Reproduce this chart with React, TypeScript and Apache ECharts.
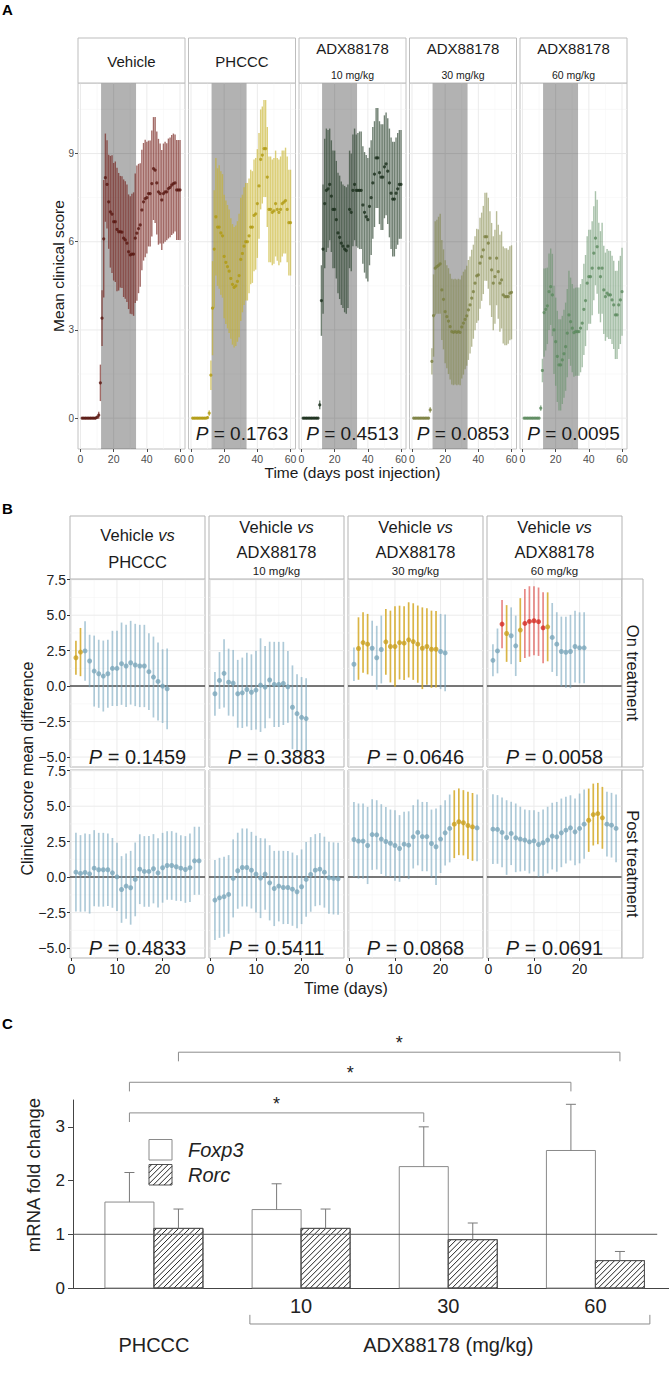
import React, { useEffect, useRef } from "react";
import * as echarts from "echarts";

const FONT = "'Liberation Sans', Arial, Helvetica, sans-serif";

// ================= Panel A data =================
const aDays = [1,2,3,4,5,6,7,8,9,10,11,12,13,14,15,16,17,18,19,20,21,22,23,24,25,26,27,28,29,30,31,32,33,34,35,36,37,38,39,40,41,42,43,44,45,46,47,48,49,50,51,52,53,54,55,56,57,58,59,60];
const aPanelTitles = ["Vehicle", "PHCCC", "ADX88178", "ADX88178", "ADX88178"];
const aPanelDoses = ["", "", "10 mg/kg", "30 mg/kg", "60 mg/kg"];
const aPValues = ["", "0.1763", "0.4513", "0.0853", "0.0095"];
const aTreatment = [12.4, 33.5];
const aXTicks = [0, 20, 40, 60];
const aXMinor = [10, 30, 50];
const aYTicks = [0, 3, 6, 9];
const aYMinor = [1.5, 4.5, 7.5, 10.5];

const vehicleMean = [0,0,0,0,0,0,0,0,0,0.03, 0.1,1.2,3.4,6.1,8.18,7.95,7.36,7.02,6.94,6.68, 6.68,6.42,6.34,6.34,6.33,6.12,6.06,5.95,5.66,5.55, 5.58,5.58,6.12,6.29,6.45,6.57,7.08,7.36,7.47,7.5, 7.64,7.64,7.98,8.49,8.44,8.0,7.7,7.64,7.42,7.64, 7.7,7.7,7.81,7.85,7.93,7.98,8.0,7.76,7.76,7.76];
const vehicleErr = [0.04,0.04,0.04,0.04,0.04,0.04,0.04,0.04,0.04,0.05, 0.12,0.62,0.95,2.0,1.5,1.5,1.6,1.9,2.0,2.0, 2.05,2.1,2.0,1.9,1.9,2.0,2.0,2.0,1.95,2.0, 2.05,2.1,2.2,2.3,2.2,2.1,2.05,2.0,2.0,1.9, 1.8,1.8,1.8,1.75,1.8,1.75,1.8,1.7,1.7,1.7, 1.7,1.65,1.7,1.7,1.7,1.7,1.65,1.7,1.7,1.7];

const phcccMean = [0,0,0,0,0,0,0,0,0,0.02, 0.17,1.46,3.74,5.75,6.85,6.5,6.5,6.3,6.2,5.5, 5.3,5.15,5.0,4.75,4.55,4.45,4.5,4.65,4.85,5.4, 5.6,5.85,6.0,6.0,6.2,6.5,6.5,6.9,6.95,7.3, 7.9,8.8,8.95,9.17,9.17,8.2,7.1,7.1,7.0,7.05, 7.3,7.1,7.0,7.1,7.3,7.35,7.4,7.1,6.65,6.65];
const phcccErr = [0.04,0.04,0.04,0.04,0.04,0.04,0.04,0.04,0.04,0.05, 0.1,0.5,1.6,2.0,2.0,2.0,2.1,2.1,2.1,2.1, 2.1,2.1,2.1,2.05,2.05,2.05,2.05,2.05,2.1,2.1, 2.0,2.0,2.0,2.0,1.95,1.95,1.9,1.9,1.9,1.85, 1.8,1.7,1.65,1.65,1.65,1.7,1.8,1.8,1.8,1.8, 1.8,1.75,1.8,1.8,1.8,1.75,1.8,1.8,1.8,1.8];

const adx10Mean = [0,0,0,0,0,0,0,0,0,0, 0.45,4.0,5.75,7.3,7.75,7.8,7.95,7.55,7.1,7.1, 6.75,6.3,6.15,5.95,5.85,5.75,5.7,5.85,7.1,7.0, 7.75,7.95,7.75,7.75,7.75,7.75,7.25,7.0,6.85,6.75, 7.2,7.5,8.0,8.3,8.85,8.85,8.35,8.2,8.2,8.55, 8.65,8.4,8.0,7.65,7.45,7.45,7.65,7.8,7.95,7.95];
const adx10Err = [0.04,0.04,0.04,0.04,0.04,0.04,0.04,0.04,0.04,0.04, 0.15,1.2,2.2,2.2,2.1,2.0,1.9,1.9,2.0,2.0, 2.0,2.05,2.1,2.1,2.1,2.15,2.15,2.1,2.0,2.0, 1.9,1.9,1.9,1.95,2.0,2.0,2.0,2.05,2.1,2.1, 2.0,1.95,1.9,1.8,1.7,1.7,1.75,1.8,1.8,1.75, 1.75,1.8,1.85,1.9,1.95,1.95,1.9,1.9,1.85,1.85];

const adx30Mean = [0,0,0,0,0,0,0,0,0,0, 0.28,1.93,3.49,5.1,5.15,5.2,5.25,4.36,4.04,3.62, 3.45,3.3,3.11,2.94,2.92,2.94,2.92,2.94,2.92,3.1, 3.23,3.36,3.48,3.68,3.85,4.08,4.3,4.59,4.84,4.87, 5.27,5.49,5.72,6.17,6.17,5.95,5.44,5.04,4.59,4.81, 5.44,4.98,4.59,4.7,4.19,4.13,4.13,4.13,4.25,4.28];
const adx30Err = [0.04,0.04,0.04,0.04,0.04,0.04,0.04,0.04,0.04,0.04, 0.1,0.45,1.4,1.6,1.6,1.65,1.7,1.7,1.7,1.75, 1.75,1.8,1.8,1.8,1.8,1.8,1.8,1.8,1.8,1.75, 1.75,1.7,1.7,1.7,1.65,1.65,1.6,1.6,1.6,1.55, 1.55,1.5,1.5,1.5,1.5,1.55,1.6,1.6,1.6,1.6, 1.6,1.6,1.65,1.65,1.65,1.65,1.65,1.6,1.6,1.6];

const adx60Mean = [0,0,0,0,0,0,0,0,0,0, 0.34,1.62,3.59,3.7,3.82,4.3,4.47,4.19,3.0,2.6, 2.1,1.81,1.81,1.98,2.19,2.43,2.89,3.51,3.28,3.06, 2.91,2.94,2.94,2.94,3.06,3.23,3.7,4.0,4.59,4.81, 4.81,5.1,5.61,6.12,5.83,5.1,4.81,5.1,4.36,4.13, 4.25,4.19,4.19,4.02,3.85,3.51,3.51,3.85,4.02,4.3];
const adx60Err = [0.04,0.04,0.04,0.04,0.04,0.04,0.04,0.04,0.04,0.04, 0.1,0.4,1.5,1.4,1.3,1.3,1.3,1.4,1.5,1.5, 1.55,1.55,1.55,1.5,1.5,1.5,1.5,1.5,1.5,1.5, 1.5,1.5,1.5,1.5,1.5,1.5,1.55,1.55,1.6,1.6, 1.6,1.6,1.6,1.6,1.6,1.55,1.55,1.55,1.5,1.5, 1.5,1.5,1.5,1.5,1.5,1.5,1.5,1.5,1.5,1.5];

// ================= Panel B data =================
const bDays = [1,2,3,4,5,6,7,8,9,10,11,12,13,14,15,16,17,18,19,20,21,22,23,24,25,26,27,28];
const bColTitles = ["PHCCC", "ADX88178", "ADX88178", "ADX88178"];
const bColDoses = ["", "10 mg/kg", "30 mg/kg", "60 mg/kg"];
const bRowTitles = ["On treatment", "Post treatment"];
const bPValues = [["0.1459", "0.3883", "0.0646", "0.0058"], ["0.4833", "0.5411", "0.0868", "0.0691"]];
const bXTicks = [0, 10, 20];
const bXMinor = [5, 15, 25];
const bYTicks = [-5, -2.5, 0, 2.5, 5, 7.5];
const bYMinor = [-3.75, -1.25, 1.25, 3.75, 6.25];
const bZeroLine = 0;

const bOnPhcccMean = [2.0,2.4,2.48,1.77,1.06,0.87,0.71,0.87,1.25,1.25,1.58,1.42,1.65,1.49,1.42,1.42,1.02,0.64,0.33,0.0,-0.19];
const bOnPhcccErr = [1.2,1.7,2.1,1.85,2.5,2.4,2.5,2.4,2.65,2.65,2.9,2.9,2.95,2.9,2.9,2.9,2.7,2.85,2.75,2.6,2.85];
const bOnPhcccSig = [1,1,0,0,0,0,0,0,0,0,0,0,0,0,0,0,0,0,0,0,0];

const bOnAdx10Mean = [-0.54,0.4,0.9,0.28,0.21,-0.54,-0.47,-0.24,-0.43,-0.28,0.07,-0.07,0.43,0.12,0.12,0.19,-0.05,-1.49,-1.94,-2.2,-2.29];
const bOnAdx10Err = [1.54,2.0,2.41,2.36,2.34,2.39,2.48,2.6,2.67,2.77,3.3,2.9,2.7,3.0,3.0,2.93,2.53,2.95,2.77,2.84,2.84];
const bOnAdx10Sig = [0,0,0,0,0,0,0,0,0,0,0,0,0,0,0,0,0,0,0,0,0];

const bOnAdx30Mean = [1.54,2.65,3.07,2.96,2.67,2.0,2.58,3.12,2.79,2.79,3.07,3.03,3.26,3.14,2.96,2.67,2.79,2.6,2.6,2.44,2.34];
const bOnAdx30Err = [1.18,2.2,2.13,2.13,1.94,2.25,2.39,2.32,2.53,2.84,2.6,2.6,2.65,2.7,2.72,2.88,2.7,2.72,2.7,2.65,2.7];
const bOnAdx30Sig = [0,1,1,1,0,0,0,1,1,1,1,1,1,1,1,1,1,1,1,0,0];

const bOnAdx60Mean = [1.82,2.48,4.37,3.71,3.55,2.84,3.95,4.42,4.56,4.61,4.54,4.11,4.18,3.43,2.96,2.44,2.39,2.44,2.79,2.7,2.7];
const bOnAdx60Err = [1.13,1.58,1.7,2.0,2.0,2.13,2.25,2.43,2.48,2.43,2.41,2.5,2.43,2.43,2.25,2.46,2.5,2.58,2.53,2.5,2.5];
const bOnAdx60Sig = [0,0,2,1,0,0,1,2,2,2,2,2,1,0,0,0,0,0,0,0,0];

const bPostPhcccMean = [0.35,0.26,0.33,0.23,0.63,0.52,0.52,0.52,0.3,0.02,-0.87,-0.63,-0.75,-0.16,0.56,0.4,0.4,0.59,0.3,0.66,0.82,0.82,0.73,0.63,0.54,0.66,1.15,1.15];
const bPostPhcccErr = [2.77,2.7,2.75,2.8,2.68,2.6,2.6,2.56,2.46,2.4,2.35,2.3,2.6,2.6,2.46,2.49,2.49,2.44,2.44,2.46,2.42,2.42,2.4,2.32,2.35,2.42,2.4,2.4];
const bPostPhcccSig = [0,0,0,0,0,0,0,0,0,0,0,0,0,0,0,0,0,0,0,0,0,0,0,0,0,0,0,0];

const bPostAdx10Mean = [-1.62,-1.46,-1.38,-1.22,-0.09,0.45,0.68,0.68,0.49,0.21,-0.07,0.21,-0.4,-0.8,-0.63,-0.73,-0.73,-0.85,-1.03,-0.68,-0.16,0.19,0.49,0.56,0.35,-0.05,-0.09,-0.12];
const bPostAdx10Err = [2.82,2.82,2.82,2.77,2.75,2.68,2.75,2.75,2.7,2.7,2.82,2.51,2.65,2.65,2.49,2.58,2.58,2.58,2.58,2.63,2.63,2.63,2.54,2.54,2.5,2.54,2.54,2.54];
const bPostAdx10Sig = [0,0,0,0,0,0,0,0,0,0,0,0,0,0,0,0,0,0,0,0,0,0,0,0,0,0,0,0];

const bPostAdx30Mean = [2.65,2.54,2.54,2.23,3.0,2.98,2.68,2.51,2.39,2.23,2.02,2.32,2.25,2.84,3.15,2.86,2.86,2.37,2.14,2.68,3.12,3.43,3.73,3.9,3.83,3.64,3.54,3.47];
const bPostAdx30Err = [2.65,2.65,2.65,2.72,2.49,2.44,2.46,2.44,2.37,2.49,2.35,2.28,2.39,2.23,2.32,2.44,2.44,2.39,2.7,2.39,2.3,2.39,2.39,2.35,2.3,2.37,2.39,2.35];
const bPostAdx30Sig = [0,0,0,0,0,0,0,0,0,0,0,0,0,0,0,0,0,0,0,0,0,0,1,1,1,1,1,0];

const bPostAdx60Mean = [3.38,3.36,3.15,2.79,3.08,2.77,2.68,2.61,2.49,2.56,2.3,2.42,2.61,2.89,2.84,3.12,3.31,3.47,3.19,3.43,3.73,4.01,4.41,4.48,4.18,3.73,3.66,3.43];
const bPostAdx60Err = [2.46,2.42,2.46,2.63,2.23,2.42,2.28,2.16,2.23,2.16,2.3,2.35,2.35,2.35,2.46,2.42,2.35,2.3,2.35,2.46,2.44,2.23,2.18,2.16,2.18,2.28,2.28,2.39];
const bPostAdx60Sig = [0,0,0,0,0,0,0,0,0,0,0,0,0,0,0,0,0,0,0,0,0,1,1,1,1,0,0,0];

// ================= Panel C data =================
const cGroups = ["PHCCC", "10", "30", "60"];
const cGenes = ["Foxp3", "Rorc"];
const foxp3Mean = [1.6, 1.46, 2.26, 2.56];
const foxp3Err = [0.55, 0.48, 0.74, 0.86];
const rorcMean = [1.11, 1.11, 0.9, 0.51];
const rorcErr = [0.36, 0.36, 0.31, 0.17];
const cRefLine = 1;
const cYTicks = [0, 1, 2, 3];
const cCompFrom = [0, 0, 0];
const cCompTo = [2, 3, 3];
const cCompGene = [0, 0, 1];
const cCompLabel = ["*", "*", "*"];
const cGroupLabel = "ADX88178 (mg/kg)";

// ================= layout =================
const A_LEFTS = [78, 188.5, 299, 409.5, 520];
const A_W = 107, A_TOP = 83, A_H = 366, A_STRIP_TOP = 38, A_STRIP_H = 45;
const A_XMIN = -1.5, A_XMAX = 63, A_YMIN = -1.05, A_YMAX = 11.4;

const B_LEFTS = [70, 209, 348, 487];
const B_W = 135, B_TOPS = [579, 770], B_H = 188, B_STRIP_TOP = 516, B_SIDE_W = 21;
const B_XMIN = -0.3, B_XMAX = 29.3, B_YMIN = -5.7, B_YMAX = 7.55;

const C_LEFT = 73, C_TOP = 1100, C_W = 596, C_H = 188;
const C_XMIN = -0.55, C_XMAX = 3.5, C_YMAX = 3.5;
const C_BAR_OFF = 0.1665, C_BAR_W = 0.333, C_REF_END = 3.42;
const C_BRACKET_LEVELS = [3.26, 3.83, 4.39], C_DROP = 0.17, C_STAR_OFF = 0.24;
const C_FONT = 20;

const aStyles = [
  { dot: "#581610", bar: "rgba(118,36,30,0.68)" },
  { dot: "#b09a10", bar: "rgba(198,178,38,0.62)" },
  { dot: "#1a2e1c", bar: "rgba(46,70,48,0.68)" },
  { dot: "#7a7f40", bar: "rgba(126,132,66,0.55)" },
  { dot: "#5b895e", bar: "rgba(98,144,102,0.55)" },
];
const bDot = ["#7aa6ba", "#c9a020", "#d42a20"];
const bBar = ["rgba(120,166,190,0.6)", "rgba(212,168,36,0.85)", "rgba(214,40,34,0.55)"];

// ================= helpers =================
function txt(x: number, y: number, text: string, o: any = {}) {
  const size = o.size || 14;
  const align = o.align || "center";
  const va = o.va || "middle";
  const color = o.color || "#1a1a1a";
  const style: any = {
    text, x: 0, y: 0, fontSize: size, fontFamily: FONT, fontWeight: o.weight || "normal",
    fontStyle: o.italic ? "italic" : "normal", fill: color, align, verticalAlign: va,
    textAlign: align, textVerticalAlign: va,
  };
  if (o.rich) {
    style.rich = {
      i: { fontStyle: "italic", fontSize: size, fontFamily: FONT, fill: color },
    };
  }
  return { type: "text", x, y, rotation: o.rotation || 0, silent: true, z: 20, style };
}

function pText(x: number, y: number, value: string, size: number) {
  return txt(x, y, "{i|P} = " + value, { size, rich: true });
}

function hatchLines(x0: number, y0: number, x1: number, y1: number, step: number, style: any) {
  const out: any[] = [];
  for (let c = x0 + y0 + step / 2; c < x1 + y1; c += step) {
    const xa = Math.max(x0, c - y1);
    const xb = Math.min(x1, c - y0);
    if (xb - xa > 0.3) out.push({ type: "line", shape: { x1: xa, y1: c - xa, x2: xb, y2: c - xb }, style });
  }
  return out;
}

function gridLinesData(xMaj: number[], xMin: number[], yMaj: number[], yMin: number[]) {
  return [
    ...xMin.map((v) => [v, 0, 0]), ...yMin.map((v) => [v, 1, 0]),
    ...xMaj.map((v) => [v, 0, 1]), ...yMaj.map((v) => [v, 1, 1]),
  ];
}

const gridLineRender = (params: any, api: any) => {
  const cs = params.coordSys;
  const v = api.value(0), o = api.value(1), m = api.value(2);
  const style = { stroke: m ? "#ebebeb" : "#f5f5f5", lineWidth: m ? 1 : 0.6 };
  if (o === 0) {
    const x = api.coord([v, 0])[0];
    return { type: "line", shape: { x1: x, y1: cs.y, x2: x, y2: cs.y + cs.height }, style };
  }
  const y = api.coord([0, v])[1];
  return { type: "line", shape: { x1: cs.x, y1: y, x2: cs.x + cs.width, y2: y }, style };
};

const shadeRender = (params: any, api: any) => {
  const cs = params.coordSys;
  const xa = api.coord([api.value(0), 0])[0];
  const xb = api.coord([api.value(1), 0])[0];
  return { type: "rect", shape: { x: xa, y: cs.y, width: xb - xa, height: cs.height }, style: { fill: "rgba(0,0,0,0.3)" } };
};

const hLineRender = (params: any, api: any) => {
  const cs = params.coordSys;
  const y = api.coord([0, api.value(1)])[1];
  return { type: "line", shape: { x1: cs.x, y1: y, x2: cs.x + cs.width, y2: y }, style: { stroke: "#4d4d4d", lineWidth: 1.5 } };
};

function errRender(colorOf: (s: number) => string, width: number) {
  return (params: any, api: any) => {
    const x = api.value(0);
    const p1 = api.coord([x, api.value(1)]);
    const p2 = api.coord([x, api.value(2)]);
    return { type: "line", shape: { x1: p1[0], y1: p1[1], x2: p2[0], y2: p2[1] }, style: { stroke: colorOf(api.value(3)), lineWidth: width } };
  };
}

function valueAxis(min: number, max: number, ticks: number[], show: boolean, lo: any) {
  return {
    type: "value", min, max,
    axisLine: { show: false, onZero: false },
    splitLine: { show: false },
    axisTick: { show, customValues: ticks, length: lo.tickLen || 3, lineStyle: { color: lo.tickColor, width: 1 } },
    axisLabel: { show, customValues: ticks, fontSize: lo.size, color: lo.color, fontFamily: FONT, margin: lo.margin, formatter: lo.formatter },
  };
}

const geneOffset = (g: number) => (g === 0 ? -C_BAR_OFF : C_BAR_OFF);

const barRender = (params: any, api: any) => {
  const g = api.value(0), mean = api.value(1), err = api.value(2), gene = api.value(3);
  const x = g + geneOffset(gene);
  const w = api.size([C_BAR_W, 0])[0];
  const top = api.coord([x, mean]);
  const base = api.coord([x, 0]);
  const eTop = api.coord([x, mean + err]);
  const x0 = top[0] - w / 2, x1 = top[0] + w / 2;
  const children: any[] = [
    { type: "rect", shape: { x: x0, y: top[1], width: w, height: base[1] - top[1] }, style: { fill: "#ffffff", stroke: gene ? "#555555" : "#8a8a8a", lineWidth: 1 } },
  ];
  if (gene) {
    children.push(...hatchLines(x0, top[1], x1, base[1], 5.5, { stroke: "#222222", lineWidth: 1 }));
    children.push({ type: "rect", shape: { x: x0, y: top[1], width: w, height: base[1] - top[1] }, style: { fill: "none", stroke: "#555555", lineWidth: 1 } });
  }
  children.push({ type: "line", shape: { x1: top[0], y1: top[1], x2: top[0], y2: eTop[1] }, style: { stroke: "#7a7a7a", lineWidth: 1 } });
  children.push({ type: "line", shape: { x1: top[0] - 5, y1: eTop[1], x2: top[0] + 5, y2: eTop[1] }, style: { stroke: "#7a7a7a", lineWidth: 1 } });
  return { type: "group", children };
};

const cText = (x: number, y: number, text: string, size: number) => ({
  type: "text", x, y, style: { text, fontSize: size, fontFamily: FONT, fill: "#222", align: "center", verticalAlign: "middle" },
});

const annotRender = (params: any, api: any) => {
  const P = (x: number, y: number) => api.coord([x, y]);
  const children: any[] = [];
  const lineStyle = { stroke: "#8c8c8c", lineWidth: 1, fill: "none" };
  const seg = (a: number[], b: number[]) => ({ type: "line", shape: { x1: a[0], y1: a[1], x2: b[0], y2: b[1] }, style: lineStyle });
  const bracket = (pts: number[][]) => { for (let k = 0; k < pts.length - 1; k++) children.push(seg(pts[k], pts[k + 1])); };
  const r0 = P(C_XMIN, cRefLine), r1 = P(C_REF_END, cRefLine);
  children.push({ type: "line", shape: { x1: r0[0], y1: r0[1], x2: r1[0], y2: r1[1] }, style: { stroke: "#555555", lineWidth: 1 } });
  cCompFrom.forEach((f, k) => {
    const xa = f + geneOffset(cCompGene[k]);
    const xb = cCompTo[k] + geneOffset(cCompGene[k]);
    const lv = C_BRACKET_LEVELS[k];
    bracket([P(xa, lv - C_DROP), P(xa, lv), P(xb, lv), P(xb, lv - C_DROP)]);
    const s = P((xa + xb) / 2, lv + C_STAR_OFF);
    children.push(cText(s[0], s[1] + 4, cCompLabel[k], 18));
  });
  cGroups.forEach((g, i) => {
    if (i === 0) return;
    const p = P(i, -0.33);
    children.push(cText(p[0], p[1], g, C_FONT));
  });
  bracket([P(0.652, -0.5), P(0.652, -0.67), P(3.37, -0.67), P(3.37, -0.5)]);
  const l0 = P(0, -1.06), l1 = P(2, -1.06);
  children.push(cText(l0[0], l0[1], cGroups[0], C_FONT));
  children.push(cText(l1[0], l1[1], cGroupLabel, C_FONT));
  return { type: "group", children };
};

function buildOption() {
  const grid: any[] = [], xAxis: any[] = [], yAxis: any[] = [], series: any[] = [], elements: any[] = [];
  const addPanel = (g: any, xa: any, ya: any) => {
    const i = grid.length;
    grid.push({ outerBoundsMode: "none", containLabel: false, ...g });
    xAxis.push({ ...xa, gridIndex: i });
    yAxis.push({ ...ya, gridIndex: i });
    return i;
  };

  // ---------- Panel A ----------
  const aData = [
    { mean: vehicleMean, err: vehicleErr }, { mean: phcccMean, err: phcccErr },
    { mean: adx10Mean, err: adx10Err }, { mean: adx30Mean, err: adx30Err }, { mean: adx60Mean, err: adx60Err },
  ];
  aData.forEach((d, i) => {
    const st = aStyles[i];
    const gi = addPanel(
      { left: A_LEFTS[i], top: A_TOP, width: A_W, height: A_H, show: true, borderColor: "#c2c2c2", borderWidth: 1, backgroundColor: "#ffffff" },
      valueAxis(A_XMIN, A_XMAX, aXTicks, true, { size: 10.5, color: "#4d4d4d", margin: 4, tickColor: "#4d4d4d" }),
      valueAxis(A_YMIN, A_YMAX, aYTicks, i === 0, { size: 10, color: "#4d4d4d", margin: 4, tickColor: "#4d4d4d" })
    );
    series.push({ type: "custom", xAxisIndex: gi, yAxisIndex: gi, silent: true, z: 1, renderItem: gridLineRender, data: gridLinesData(aXTicks, aXMinor, aYTicks, aYMinor) });
    series.push({ type: "custom", xAxisIndex: gi, yAxisIndex: gi, silent: true, z: 2, renderItem: shadeRender, data: [aTreatment] });
    series.push({
      type: "custom", xAxisIndex: gi, yAxisIndex: gi, silent: true, z: 3, clip: true,
      renderItem: errRender(() => st.bar, 1.4),
      data: aDays.map((day, k) => [day, d.mean[k] - d.err[k], d.mean[k] + d.err[k], 0]),
    });
    series.push({
      type: "scatter", xAxisIndex: gi, yAxisIndex: gi, silent: true, z: 4, symbol: "circle", symbolSize: 3.2,
      itemStyle: { color: st.dot }, data: aDays.map((day, k) => [day, d.mean[k]]),
    });
    elements.push({ type: "rect", silent: true, z: 10, shape: { x: A_LEFTS[i], y: A_STRIP_TOP, width: A_W, height: A_STRIP_H }, style: { fill: "#ffffff", stroke: "#bdbdbd", lineWidth: 1 } });
    const cx = A_LEFTS[i] + A_W / 2;
    if (aPanelDoses[i]) {
      elements.push(txt(cx, A_STRIP_TOP + 10, aPanelTitles[i], { size: 15 }));
      elements.push(txt(cx, A_STRIP_TOP + 37, aPanelDoses[i], { size: 10.5 }));
    } else {
      elements.push(txt(cx, A_STRIP_TOP + 23, aPanelTitles[i], { size: 15 }));
    }
    if (aPValues[i]) elements.push(pText(cx, A_TOP + A_H - 16, aPValues[i], 19));
  });
  elements.push(txt(2, 9.5, "A", { size: 15, weight: "bold", align: "left", color: "#000" }));
  elements.push(txt(58, A_TOP + A_H / 2, "Mean clinical score", { size: 15.5, rotation: Math.PI / 2 }));
  elements.push(txt((A_LEFTS[0] + A_LEFTS[4] + A_W) / 2, 472, "Time (days post injection)", { size: 15.5 }));

  // ---------- Panel B ----------
  const bData = [
    [
      { mean: bOnPhcccMean, err: bOnPhcccErr, sig: bOnPhcccSig }, { mean: bOnAdx10Mean, err: bOnAdx10Err, sig: bOnAdx10Sig },
      { mean: bOnAdx30Mean, err: bOnAdx30Err, sig: bOnAdx30Sig }, { mean: bOnAdx60Mean, err: bOnAdx60Err, sig: bOnAdx60Sig },
    ],
    [
      { mean: bPostPhcccMean, err: bPostPhcccErr, sig: bPostPhcccSig }, { mean: bPostAdx10Mean, err: bPostAdx10Err, sig: bPostAdx10Sig },
      { mean: bPostAdx30Mean, err: bPostAdx30Err, sig: bPostAdx30Sig }, { mean: bPostAdx60Mean, err: bPostAdx60Err, sig: bPostAdx60Sig },
    ],
  ];
  const fmtB = (v: number) => {
    const s = Math.abs(v).toFixed(1);
    return v < 0 ? "\u2212" + s : s;
  };
  bData.forEach((row, r) => {
    row.forEach((d, c) => {
      const gi = addPanel(
        { left: B_LEFTS[c], top: B_TOPS[r], width: B_W, height: B_H, show: true, borderColor: "#b3b3b3", borderWidth: 1, backgroundColor: "#ffffff" },
        valueAxis(B_XMIN, B_XMAX, bXTicks, r === 1, { size: 14, color: "#222", margin: 4, tickColor: "#333" }),
        valueAxis(B_YMIN, B_YMAX, bYTicks, c === 0, { size: 14, color: "#222", margin: 4, tickColor: "#333", formatter: fmtB })
      );
      const days = bDays.slice(0, d.mean.length);
      series.push({ type: "custom", xAxisIndex: gi, yAxisIndex: gi, silent: true, z: 1, renderItem: gridLineRender, data: gridLinesData(bXTicks, bXMinor, bYTicks, bYMinor) });
      series.push({ type: "custom", xAxisIndex: gi, yAxisIndex: gi, silent: true, z: 2, renderItem: hLineRender, data: [[0, bZeroLine]] });
      series.push({
        type: "custom", xAxisIndex: gi, yAxisIndex: gi, silent: true, z: 3, clip: true,
        renderItem: errRender((s) => bBar[s], 1.7),
        data: days.map((day, k) => [day, d.mean[k] - d.err[k], d.mean[k] + d.err[k], d.sig[k]]),
      });
      series.push({
        type: "scatter", xAxisIndex: gi, yAxisIndex: gi, silent: true, z: 4, symbol: "circle", symbolSize: 5,
        itemStyle: { color: (p: any) => bDot[p.value[2]] }, data: days.map((day, k) => [day, d.mean[k], d.sig[k]]),
      });
      elements.push(pText(B_LEFTS[c] + B_W / 2, B_TOPS[r] + B_H - 10, bPValues[r][c], 20));
    });
    const sx = B_LEFTS[3] + B_W;
    elements.push({ type: "rect", silent: true, z: 10, shape: { x: sx, y: B_TOPS[r], width: B_SIDE_W, height: B_H }, style: { fill: "#ffffff", stroke: "#b3b3b3", lineWidth: 1 } });
    elements.push(txt(sx + B_SIDE_W / 2, B_TOPS[r] + B_H / 2, bRowTitles[r], { size: 16.5, rotation: -Math.PI / 2 }));
  });
  bColTitles.forEach((t, c) => {
    const sh = B_TOPS[0] - B_STRIP_TOP;
    elements.push({ type: "rect", silent: true, z: 10, shape: { x: B_LEFTS[c], y: B_STRIP_TOP, width: B_W, height: sh }, style: { fill: "#ffffff", stroke: "#b3b3b3", lineWidth: 1 } });
    const cx = B_LEFTS[c] + B_W / 2;
    if (bColDoses[c]) {
      elements.push(txt(cx, B_STRIP_TOP + 11, "Vehicle {i|vs}", { size: 16.5, rich: true }));
      elements.push(txt(cx, B_STRIP_TOP + 36, t, { size: 16.5 }));
      elements.push(txt(cx, B_STRIP_TOP + 55, bColDoses[c], { size: 11.5 }));
    } else {
      elements.push(txt(cx, B_STRIP_TOP + 19, "Vehicle {i|vs}", { size: 16.5, rich: true }));
      elements.push(txt(cx, B_STRIP_TOP + 46, t, { size: 16.5 }));
    }
  });
  elements.push(txt(2, 508, "B", { size: 15, weight: "bold", align: "left", color: "#000" }));
  elements.push(txt(27, (B_TOPS[0] + B_TOPS[1] + B_H) / 2, "Clinical score mean difference", { size: 16, rotation: Math.PI / 2 }));
  elements.push(txt((B_LEFTS[0] + B_LEFTS[3] + B_W) / 2, 988, "Time (days)", { size: 16 }));

  // ---------- Panel C ----------
  const cg = addPanel(
    { left: C_LEFT, top: C_TOP, width: C_W, height: C_H, show: false },
    { type: "value", min: C_XMIN, max: C_XMAX, axisLine: { show: true, onZero: false, lineStyle: { color: "#444", width: 1 } }, axisTick: { show: false }, axisLabel: { show: false }, splitLine: { show: false } },
    {
      type: "value", min: 0, max: C_YMAX,
      axisLine: { show: true, onZero: false, lineStyle: { color: "#444", width: 1 } },
      axisTick: { show: true, customValues: cYTicks, length: 5, lineStyle: { color: "#444" } },
      axisLabel: { show: true, customValues: cYTicks, fontSize: 17, color: "#222", margin: 8, fontFamily: FONT },
      splitLine: { show: false },
    }
  );
  const cData = [
    ...cGroups.map((_, g) => [g, foxp3Mean[g], foxp3Err[g], 0]),
    ...cGroups.map((_, g) => [g, rorcMean[g], rorcErr[g], 1]),
  ];
  series.push({ type: "custom", xAxisIndex: cg, yAxisIndex: cg, silent: true, z: 2, clip: false, renderItem: barRender, data: cData });
  series.push({ type: "custom", xAxisIndex: cg, yAxisIndex: cg, silent: true, z: 3, clip: false, renderItem: annotRender, data: [[0, 0]] });

  const lx = 149, lw = 23, lh = 20.5, ly = [1139.5, 1164.5];
  elements.push({ type: "rect", silent: true, z: 10, shape: { x: lx, y: ly[0], width: lw, height: lh }, style: { fill: "#fff", stroke: "#8a8a8a", lineWidth: 1 } });
  elements.push({ type: "rect", silent: true, z: 10, shape: { x: lx, y: ly[1], width: lw, height: lh }, style: { fill: "#fff", stroke: "#555", lineWidth: 1 } });
  hatchLines(lx, ly[1], lx + lw, ly[1] + lh, 5.5, { stroke: "#222", lineWidth: 1 }).forEach((h) => elements.push({ ...h, silent: true, z: 11 }));
  cGenes.forEach((gname, k) => {
    elements.push(txt(188, ly[k] + lh / 2, gname, { size: C_FONT, italic: true, align: "left", color: "#222" }));
  });
  elements.push(txt(2, 1023, "C", { size: 15, weight: "bold", align: "left", color: "#000" }));
  elements.push(txt(33, C_TOP + 75, "mRNA fold change", { size: 18.5, rotation: Math.PI / 2, color: "#222" }));

  return {
    animation: false,
    backgroundColor: "#ffffff",
    textStyle: { fontFamily: FONT },
    grid, xAxis, yAxis, series,
    graphic: { elements },
  };
}

export default function App() {
  const ref = useRef<HTMLDivElement>(null);
  useEffect(() => {
    const chart = echarts.init(ref.current as HTMLDivElement, undefined, { renderer: "svg", width: 669, height: 1386 });
    chart.setOption(buildOption() as any);
    return () => chart.dispose();
  }, []);
  return <div ref={ref} style={{ position: "absolute", left: 0, top: 0, width: 669, height: 1386, background: "#fff" }} />;
}
